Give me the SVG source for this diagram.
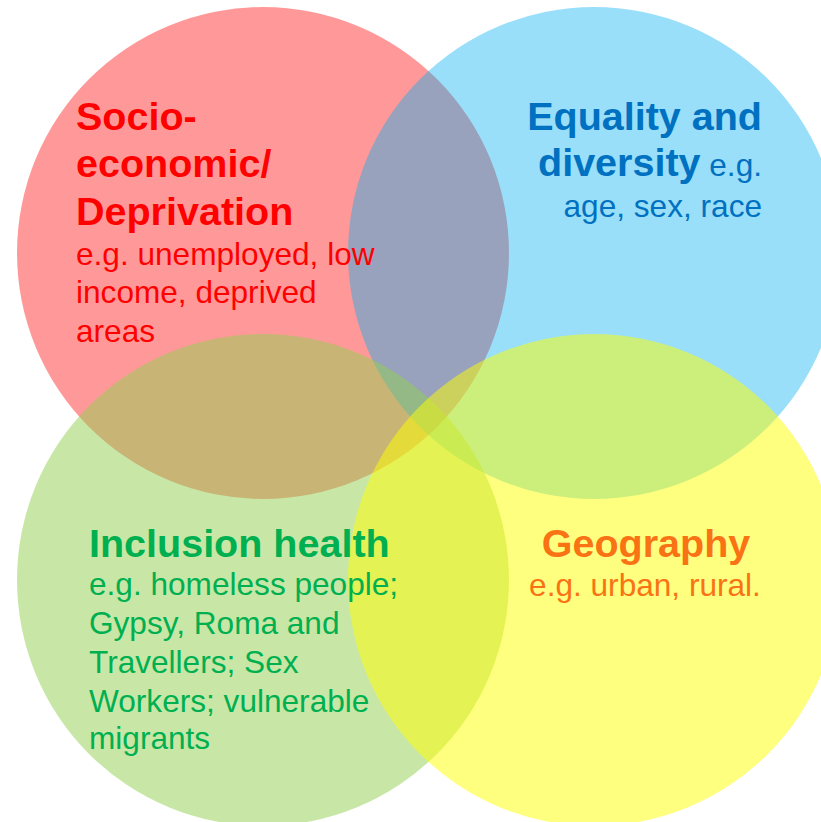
<svg xmlns="http://www.w3.org/2000/svg" width="821" height="822" viewBox="0 0 821 822">
  <style>
    .t { font-family: "Liberation Sans", Arial, sans-serif; }
    .h { font-weight: bold; font-size: 39.5px; }
    .b { font-size: 31.6px; }
    .red { fill: #FF0000; }
    .blue { fill: #0070C0; }
    .green { fill: #00B050; }
    .orange { fill: #F97314; }
  </style>
  <rect width="821" height="822" fill="#FFFFFF"/>
  <!-- Four overlapping sets, drawn bottom to top -->
  <g id="socio-economic">
    <circle cx="263" cy="253" r="246" fill="#FF0000" fill-opacity="0.4"/>
  </g>
  <g id="equality-diversity">
    <circle cx="594" cy="253" r="246" fill="#00B0F0" fill-opacity="0.4"/>
  </g>
  <g id="inclusion-health">
    <circle cx="263" cy="580" r="246" fill="#92D050" fill-opacity="0.5"/>
  </g>
  <g id="geography">
    <circle cx="594" cy="580" r="246" fill="#FFFF00" fill-opacity="0.5"/>
  </g>
  <g id="connectors"/>
  <!-- Labels -->
  <g id="socio-economic-label" class="t red">
    <text class="h" x="76" y="130">Socio-</text>
    <text class="h" x="76" y="177">economic/</text>
    <text class="h" x="76" y="225">Deprivation</text>
    <text class="b" x="76" y="265">e.g. unemployed, low</text>
    <text class="b" x="76" y="303">income, deprived</text>
    <text class="b" x="76" y="342">areas</text>
  </g>
  <g id="equality-diversity-label" class="t blue" text-anchor="end">
    <text class="h" x="762" y="130">Equality and</text>
    <text x="762" y="176"><tspan class="h">diversity</tspan><tspan class="b"> e.g.</tspan></text>
    <text class="b" x="762" y="217">age, sex, race</text>
  </g>
  <g id="inclusion-health-label" class="t green">
    <text class="h" x="89" y="557">Inclusion health</text>
    <text class="b" x="89" y="595">e.g. homeless people;</text>
    <text class="b" x="89" y="634">Gypsy, Roma and</text>
    <text class="b" x="89" y="673">Travellers; Sex</text>
    <text class="b" x="89" y="712">Workers; vulnerable</text>
    <text class="b" x="89" y="749">migrants</text>
  </g>
  <g id="geography-label" class="t orange" text-anchor="middle">
    <text class="h" x="646" y="557">Geography</text>
    <text class="b" x="645" y="596">e.g. urban, rural.</text>
  </g>
</svg>
